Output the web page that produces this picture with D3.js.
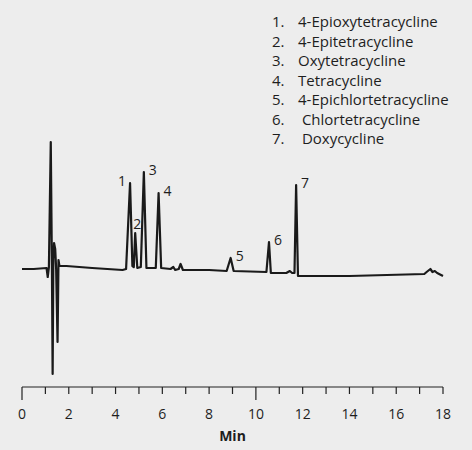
<!DOCTYPE html>
<html>
<head>
<meta charset="utf-8">
<script src="https://cdn.jsdelivr.net/npm/d3@7"></script>
<style>
  html, body { margin: 0; padding: 0; background: #ededed; }
  svg { display: block; }
  text { font-family: "Open Sans", "Noto Sans", sans-serif; fill: #1e1e1e; }
</style>
</head>
<body>
<div id="chart"></div>
<script>
// retention time (min) and detector signal (arbitrary units, baseline ~ 0)
var traceTime = [0, 0.5, 1.05, 1.10, 1.15, 1.23, 1.28, 1.31, 1.34, 1.37, 1.42, 1.46, 1.52, 1.56, 1.60,
  1.9, 3.0, 4.3, 4.45, 4.62, 4.72, 4.78, 4.84, 4.93, 5.08, 5.21, 5.32, 5.72, 5.84, 5.95,
  6.35, 6.47, 6.55, 6.70, 6.78, 6.88, 8.0, 8.75, 8.92, 9.05, 10.45, 10.56, 10.64, 11.3, 11.45,
  11.55, 11.65, 11.72, 11.80, 14.0, 17.2, 17.3, 17.46, 17.55, 17.65, 17.75, 18.0];
var traceSignal = [0, 0, 1, -8, 2, 127, 0, -105, 10, 26, 20, 0, -73, 9, 3,
  3, 1, -1, 0, 86, 3, 2, 36, 1, 2, 97, 1, 1, 76, 1,
  0, 2, -1, 0, 5, -1, -1, -2, 11, -2, -3, 27, -4, -4, -2,
  -4, -4, 84, -7, -7, -5, -3, 0, -3, -2, -4, -7];

// peak number labels
var peakNums = ["1", "2", "3", "4", "5", "6", "7"];
var peakTimes = [4.62, 4.84, 5.21, 5.84, 8.92, 10.56, 11.72];
var peakHeights = [86, 36, 97, 76, 11, 27, 84];

var compounds = ["4-Epioxytetracycline", "4-Epitetracycline", "Oxytetracycline", "Tetracycline",
  "4-Epichlortetracycline", " Chlortetracycline", " Doxycycline"];

var xTicks = d3.range(0, 19, 1);
var xTickLabels = d3.range(0, 19, 2);

var width = 472, height = 450;

var svg = d3.select("#chart").append("svg")
  .attr("width", width)
  .attr("height", height);

var x = d3.scaleLinear().domain([0, 18]).range([22, 443]);
var y = d3.scaleLinear().domain([-105, 127]).range([374, 142]);

// trace
var pts = traceTime.map(function(t, i) { return [t, traceSignal[i]]; });
var line = d3.line()
  .x(function(d) { return x(d[0]); })
  .y(function(d) { return y(d[1]); });

svg.append("path")
  .datum(pts)
  .attr("d", line)
  .attr("fill", "none")
  .attr("stroke", "#1a1a1a")
  .attr("stroke-width", 2.2)
  .attr("stroke-linejoin", "round");

// peak labels (1 sits left of its peak, 2 above, the rest to the right)
svg.selectAll(".peak")
  .data(peakNums)
  .enter()
  .append("text")
  .attr("class", "peak")
  .attr("x", function(d, i) { return x(peakTimes[i]) + (i == 0 ? -4 : (i == 1 ? 2 : 5)); })
  .attr("y", function(d, i) { return y(peakHeights[i]) + (i == 1 ? -4 : 3); })
  .attr("text-anchor", function(d, i) { return i == 0 ? "end" : (i == 1 ? "middle" : "start"); })
  .style("font-size", "14px")
  .text(function(d) { return d; });

// x axis
var axisY = 387;
var axis = svg.append("g").attr("class", "x-axis");
axis.append("line")
  .attr("x1", x(0)).attr("x2", x(18))
  .attr("y1", axisY).attr("y2", axisY)
  .attr("stroke", "#222").attr("stroke-width", 1.2);
axis.selectAll(".tick")
  .data(xTicks)
  .enter()
  .append("line")
  .attr("x1", function(d) { return x(d); })
  .attr("x2", function(d) { return x(d); })
  .attr("y1", axisY)
  .attr("y2", function(d) { return axisY + (d % 10 == 0 && d != 18 ? 13 : 7); })
  .attr("stroke", "#222").attr("stroke-width", 1.2);
axis.selectAll(".lbl")
  .data(xTickLabels)
  .enter()
  .append("text")
  .attr("x", function(d) { return x(d); })
  .attr("y", 419)
  .attr("text-anchor", "middle")
  .style("font-size", "14px")
  .text(function(d) { return d; });
svg.append("text")
  .attr("x", x(9))
  .attr("y", 441)
  .attr("text-anchor", "middle")
  .style("font-size", "14px")
  .style("font-weight", "bold")
  .text("Min");

// compound list
var legend = svg.append("g").attr("class", "legend");
var row = legend.selectAll("g")
  .data(compounds)
  .enter()
  .append("g")
  .attr("transform", function(d, i) { return "translate(0," + (27 + i * 19.5) + ")"; });
row.append("text")
  .attr("x", 272)
  .style("font-size", "15px")
  .text(function(d, i) { return (i + 1) + "."; });
row.append("text")
  .attr("x", 298)
  .style("font-size", "15px")
  .style("white-space", "pre")
  .attr("xml:space", "preserve")
  .text(function(d) { return d; });
</script>
</body>
</html>
